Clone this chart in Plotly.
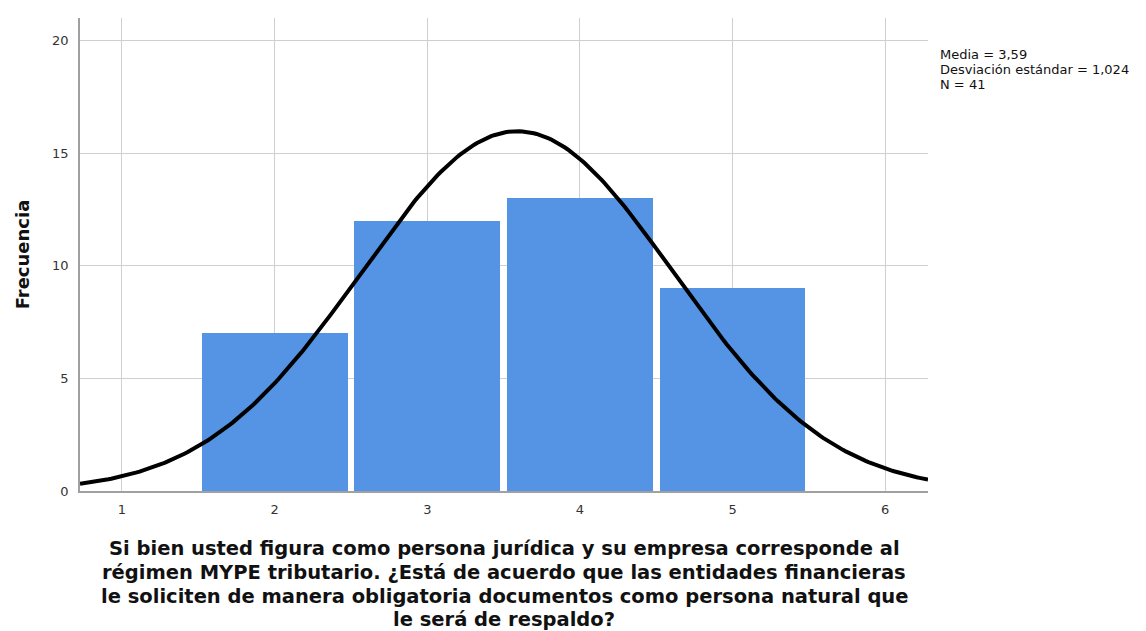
import numpy as np
import plotly.graph_objects as go

categories = [2, 3, 4, 5]
frequencies = [7, 12, 13, 9]
media = 3.59
desviacion = 1.024
n_total = 41
x_ticks = [1, 2, 3, 4, 5, 6]
y_ticks = [0, 5, 10, 15, 20]
title_lines = [
    "Si bien usted figura como persona jurídica y su empresa corresponde al",
    "régimen MYPE tributario. ¿Está de acuerdo que las entidades financieras",
    "le soliciten de manera obligatoria documentos como persona natural que",
    "le será de respaldo?",
]
stats_lines = [
    f"Media = {str(media).replace('.', ',')}",
    f"Desviación estándar = {str(desviacion).replace('.', ',')}",
    f"N = {n_total}",
]

# Normal curve defined by the displayed statistics
xs = np.linspace(0.725, 6.28, 300)
ys = n_total * 1.0 / (desviacion * np.sqrt(2 * np.pi)) * np.exp(-0.5 * ((xs - media) / desviacion) ** 2)

FONT = "DejaVu Sans, Verdana, sans-serif"

fig = go.Figure()
fig.add_trace(go.Bar(
    x=categories, y=frequencies, width=0.955,
    marker=dict(color="#5594E4", line=dict(width=0)),
    showlegend=False, hoverinfo="skip"))
fig.add_trace(go.Scatter(
    x=xs, y=ys, mode="lines", line=dict(color="black", width=4),
    showlegend=False, hoverinfo="skip"))

fig.update_layout(
    width=1138, height=623,
    margin=dict(l=72, r=218, t=10, b=140, autoexpand=False),
    paper_bgcolor="white", plot_bgcolor="white",
    font=dict(family=FONT, color="#333"),
    xaxis=dict(range=[0.725, 6.28], tickvals=x_ticks, ticktext=[str(v) for v in x_ticks],
               showgrid=True, gridcolor="#cfcfcf", gridwidth=1,
               showline=True, linecolor="#a0a0a0", linewidth=1.5,
               ticks="", ticklabelstandoff=6, automargin=False,
               tickfont=dict(size=13, color="#333", family=FONT), zeroline=False),
    yaxis=dict(range=[0, 21], tickvals=y_ticks, ticktext=[str(v) for v in y_ticks],
               showgrid=True, gridcolor="#cfcfcf", gridwidth=1,
               showline=True, linecolor="#a0a0a0", linewidth=1.5,
               ticks="", ticklabelstandoff=7, automargin=False,
               tickfont=dict(size=13, color="#333", family=FONT), zeroline=False,
               title=dict(text="<b>Frecuencia</b>", font=dict(size=18, color="#111", family=FONT),
                          standoff=18)),
    bargap=0,
)

title_y = [-0.12262, -0.17230, -0.22199, -0.27167]
for line, yy in zip(title_lines, title_y):
    fig.add_annotation(
        text=f"<b>{line}</b>", xref="paper", yref="paper", x=0.5, y=yy,
        xanchor="center", yanchor="middle", showarrow=False,
        font=dict(size=19.5, color="#111", family=FONT))

stats_y = [0.92283, 0.89112, 0.85941]
for line, yy in zip(stats_lines, stats_y):
    fig.add_annotation(
        text=line, xref="paper", yref="paper", x=1.0118, y=yy,
        xanchor="left", yanchor="middle", showarrow=False, align="left",
        font=dict(size=13, color="#111", family=FONT))

fig.write_html("out.html")
